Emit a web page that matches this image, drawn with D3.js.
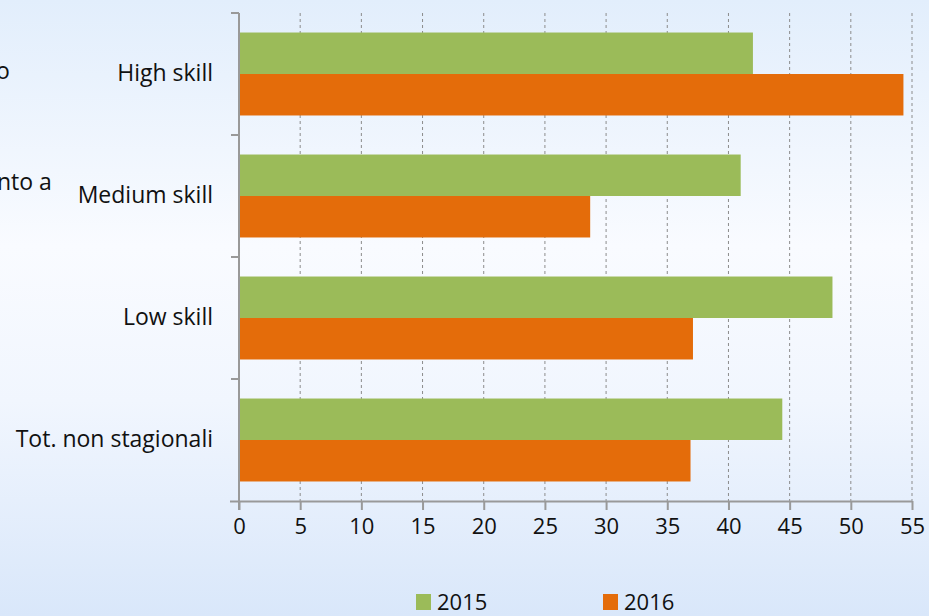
<!DOCTYPE html>
<html>
<head>
<meta charset="utf-8">
<script src="https://cdn.jsdelivr.net/npm/d3@7"></script>
<style>
  html, body { margin: 0; padding: 0; }
  body { width: 929px; height: 616px; overflow: hidden; }
  text { font-family: "Open Sans", "Noto Sans", sans-serif; fill: #111; }
</style>
</head>
<body>
<div id="chart"></div>
<script>
// data
const categories = ["High skill", "Medium skill", "Low skill", "Tot. non stagionali"];
const series = ["2015", "2016"];
const values2015 = [42.0, 41.0, 48.5, 44.4];
const values2016 = [54.3, 28.7, 37.1, 36.9];
const xTicks = [0, 5, 10, 15, 20, 25, 30, 35, 40, 45, 50, 55];
const colors = ["#9bbb59", "#e46c0a"];

const W = 929, H = 616;
const margin = { top: 13, right: 17, bottom: 115, left: 239 };

const svg = d3.select("#chart").append("svg")
    .attr("width", W)
    .attr("height", H);

// background gradient
const grad = svg.append("defs").append("linearGradient")
    .attr("id", "bg").attr("x1", 0).attr("y1", 0).attr("x2", 0).attr("y2", 1);
grad.append("stop").attr("offset", "0%").attr("stop-color", "#e2eefc");
grad.append("stop").attr("offset", "40%").attr("stop-color", "#f9fbff");
grad.append("stop").attr("offset", "65%").attr("stop-color", "#f1f6fe");
grad.append("stop").attr("offset", "100%").attr("stop-color", "#d9e7fa");
svg.append("rect").attr("width", W).attr("height", H).attr("fill", "url(#bg)");

// cut-off slide text on the far left (cut in the reference too)
svg.append("text").attr("x", -4).attr("y", 79).style("font-size", "23px").text("o");
svg.append("text").attr("x", -3).attr("y", 190).style("font-size", "23px").text("nto a");

const x = d3.scaleLinear()
    .domain([0, 55])
    .range([margin.left, W - margin.right]);

const y = d3.scaleBand()
    .domain(categories)
    .range([margin.top, H - margin.bottom])
    .paddingInner(0.32)
    .paddingOuter(0.16);

const ySub = d3.scaleBand()
    .domain(series)
    .range([0, y.bandwidth()]);

// dashed gridlines
svg.append("g")
    .selectAll("line")
    .data(xTicks.slice(1))
    .join("line")
    .attr("x1", d => x(d)).attr("x2", d => x(d))
    .attr("y1", margin.top).attr("y2", H - margin.bottom)
    .style("stroke", "#8c8c8c")
    .style("stroke-width", 1)
    .style("stroke-dasharray", "3,3");

// bars
const rows = categories.map((c, i) => ({ cat: c, vals: [values2015[i], values2016[i]] }));
const groups = svg.append("g")
    .selectAll("g")
    .data(rows)
    .join("g")
    .attr("transform", d => `translate(0,${y(d.cat)})`);

groups.selectAll("rect")
    .data(d => d.vals.map((v, j) => ({ key: series[j], v, j })))
    .join("rect")
    .attr("x", x(0))
    .attr("y", d => ySub(d.key))
    .attr("width", d => x(d.v) - x(0))
    .attr("height", ySub.bandwidth())
    .attr("fill", d => colors[d.j]);

// bottom axis
const xAxis = svg.append("g")
    .attr("transform", `translate(0,${H - margin.bottom})`)
    .call(d3.axisBottom(x).tickValues(xTicks).tickSize(9).tickPadding(8).tickSizeOuter(0));
xAxis.select(".domain").attr("d", `M${x(0) - 9},0.5H${x(55)}`)
    .style("stroke", "#999").style("stroke-width", 2);
xAxis.selectAll(".tick line").style("stroke", "#999").style("stroke-width", 2);
xAxis.selectAll(".tick text").style("font-size", "22px")
    .style("font-family", "'Open Sans', 'Noto Sans', sans-serif").attr("fill", "#111");

// left axis: line with ticks at band boundaries
const bounds = categories.map(c => y(c) - y.step() * y.paddingInner() / 2);
const yAxis = svg.append("g");
yAxis.append("line")
    .attr("x1", x(0)).attr("x2", x(0))
    .attr("y1", margin.top).attr("y2", H - margin.bottom + 9)
    .style("stroke", "#999").style("stroke-width", 2);
yAxis.selectAll(".bt")
    .data(bounds)
    .join("line")
    .attr("class", "bt")
    .attr("x1", x(0) - 8).attr("x2", x(0))
    .attr("y1", d => d).attr("y2", d => d)
    .style("stroke", "#999").style("stroke-width", 2);

// category labels
svg.append("g")
    .selectAll("text")
    .data(categories)
    .join("text")
    .attr("x", 213)
    .attr("y", d => y(d) + y.bandwidth() / 2 + 7)
    .attr("text-anchor", "end")
    .style("font-size", "23px")
    .text(d => d);

// legend
const legend = svg.append("g");
const legX = [416, 603];
series.forEach((s, i) => {
    legend.append("rect")
        .attr("x", legX[i]).attr("y", 594)
        .attr("width", 15).attr("height", 16)
        .attr("fill", colors[i]);
    legend.append("text")
        .attr("x", legX[i] + 21).attr("y", 610)
        .style("font-size", "22px")
        .text(s);
});
</script>
</body>
</html>
